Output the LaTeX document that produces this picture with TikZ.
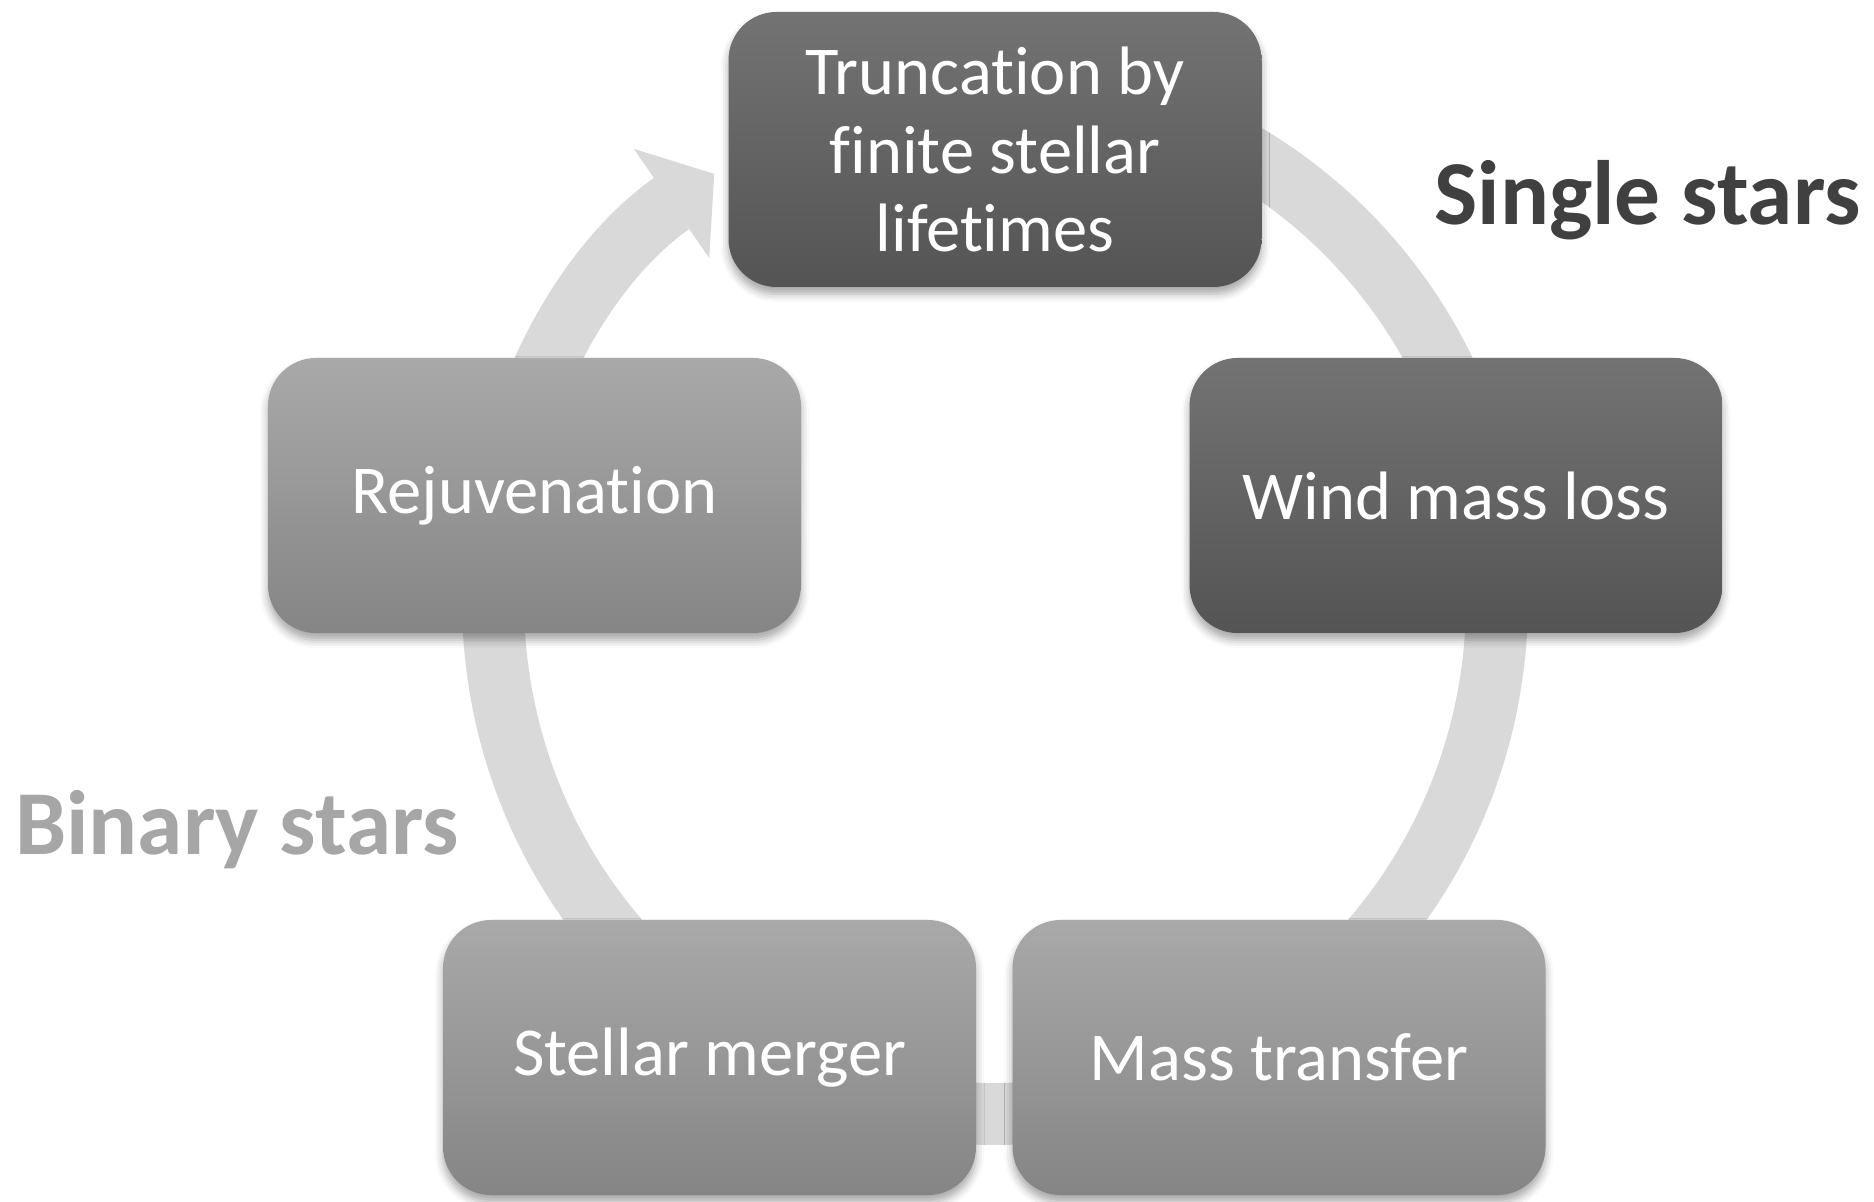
\documentclass[tikz,border=0pt]{standalone}
\usepackage{fontspec}
\setmainfont[Ligatures=NoCommon]{Carlito}
\usetikzlibrary{arrows.meta,shadows.blur}
\definecolor{ringgray}{HTML}{D9D9D9}
\definecolor{darktop}{HTML}{737373}
\definecolor{darkbot}{HTML}{545454}
\definecolor{lighttop}{HTML}{A9A9A9}
\definecolor{lightbot}{HTML}{858585}
\definecolor{singlecol}{HTML}{404040}
\definecolor{binarycol}{HTML}{A6A6A6}
\begin{document}
\begin{tikzpicture}
\tikzstyle{box}=[rounded corners=0.48cm, minimum width=5.33cm, minimum height=2.75cm,
  text=white, align=center, font=\fontsize{19.5}{22.4}\selectfont,
  blur shadow={shadow xshift=0pt, shadow yshift=-0.07cm, shadow blur radius=0.08cm, shadow opacity=35}]
\tikzstyle{darkbox}=[box, top color=darktop, bottom color=darkbot]
\tikzstyle{lightbox}=[box, top color=lighttop, bottom color=lightbot]
\tikzstyle{group}=[font=\fontsize{26}{30}\selectfont\bfseries, anchor=base]
\useasboundingbox (0, 0) rectangle (18.74, 12.01);
\coordinate (c) at (9.95, 6.01);
% the cycle ring
\draw[line width=0.62cm, color=ringgray, -{Triangle[width=1.3cm 0, length=0.52cm 0]}]
  ([shift={(90:5.02 and 5.14)}]c) arc[start angle=90, end angle=-236, x radius=5.02, y radius=5.14];
\node[darkbox] (1) at (9.95, 10.515) {Truncation by\\finite stellar\\lifetimes};
\node[darkbox] (2) at (14.56, 7.055) {Wind mass loss};
\node[lightbox] (3) at (12.79, 1.435) {Mass transfer};
\node[lightbox] (4) at (7.095, 1.435) {Stellar merger};
\node[lightbox] (5) at (5.345, 7.055) {Rejuvenation};
\node[group, text=singlecol] (single) at (16.475, 9.76) {Single stars};
\node[group, text=binarycol] (binary) at (2.37, 3.46) {Binary stars};
\end{tikzpicture}
\end{document}
